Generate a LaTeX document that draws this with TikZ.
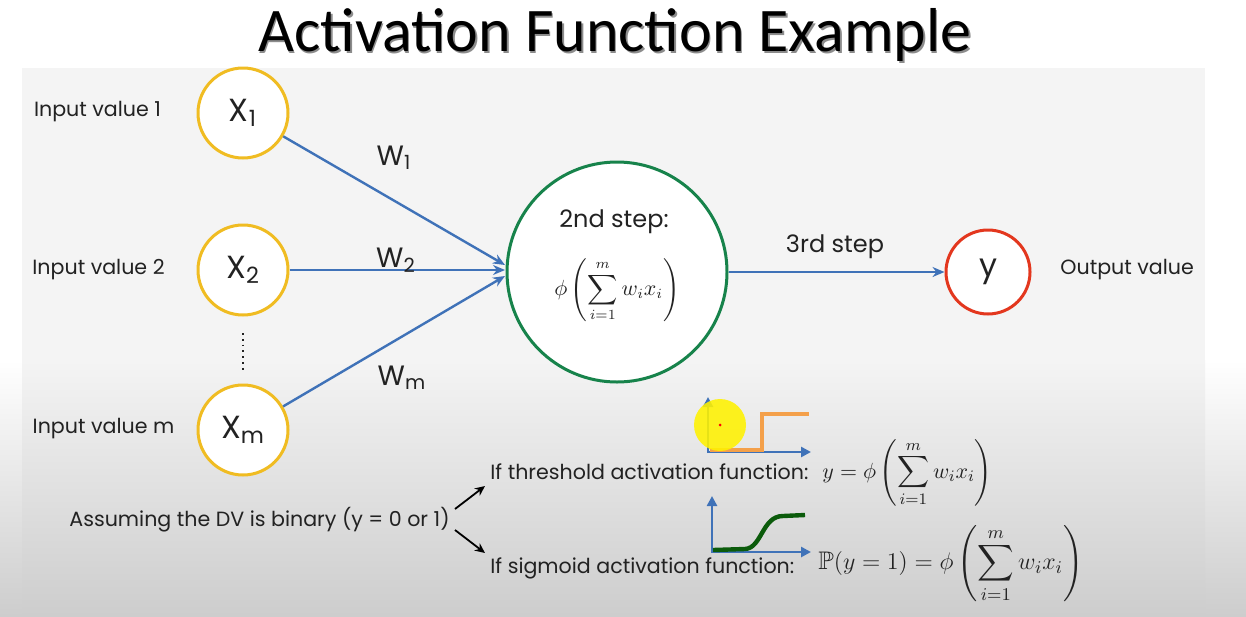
\documentclass[tikz,border=0pt]{standalone}
\usepackage{amssymb}
\usepackage{fontspec}
\setmainfont{Poppins}
\newfontfamily\titlefont{Carlito}
\usetikzlibrary{arrows.meta}
\definecolor{incol}{HTML}{F0BC22}
\definecolor{conncol}{HTML}{3F72B8}
\definecolor{midcol}{HTML}{17834B}
\definecolor{outcol}{HTML}{E3371E}
\definecolor{stepcol}{HTML}{F4A04A}
\definecolor{sigcol}{HTML}{0B5B0B}
\definecolor{txtcol}{HTML}{222222}
\definecolor{panel}{HTML}{F4F4F4}
\definecolor{panelbot}{HTML}{CDCDCD}
\tikzset{
  inp/.style={circle, draw=incol, line width=1.5pt, fill=white, minimum size=45pt, inner sep=0pt, text=txtcol, font=\fontsize{16}{16}\selectfont},
  midnode/.style={circle, draw=midcol, line width=1.5pt, fill=white, minimum size=110pt, inner sep=0pt},
  outnode/.style={circle, draw=outcol, line width=1.5pt, fill=white, minimum size=42pt, inner sep=0pt, text=txtcol, font=\fontsize{16}{16}\selectfont},
  conn/.style={draw=conncol, line width=1.2pt, -{Stealth[length=6pt,width=5pt]}},
  blk/.style={draw=black, line width=0.9pt, -{Stealth[length=5pt,width=4.5pt]}},
  lbl/.style={text=txtcol, font=\fontsize{10.3}{12}\selectfont, inner sep=0pt},
  steplbl/.style={text=txtcol, font=\fontsize{12}{14}\selectfont, inner sep=0pt},
  wlbl/.style={text=txtcol, font=\fontsize{14}{14}\selectfont, inner sep=0pt},
  axis/.style={draw=conncol, line width=1.3pt, -{Triangle[length=5pt,width=5pt]}},
}
\begin{document}
\begin{tikzpicture}[x=0.5pt,y=-0.5pt]
\useasboundingbox (0,0) rectangle (1246,616);
\fill[white] (0,0) rectangle (1246,616);
\fill[panel] (22,68) rectangle (1205,616);
\shade[top color=white, bottom color=panelbot] (0,360) rectangle (22,616);
\shade[top color=white, bottom color=panelbot] (1205,360) rectangle (1246,616);
\shade[top color=panel, bottom color=panelbot] (22,360) rectangle (1205,616);
% title
\node[inner sep=0pt, text=black!45, font=\titlefont\fontsize{31}{31}\selectfont] at (616.5,36.5) {Activation Function Example};
\node[inner sep=0pt, text=black, font=\titlefont\fontsize{31}{31}\selectfont] (title) at (615,35) {Activation Function Example};
% input labels
\node[lbl] (l1) at (97.5,112) {Input value 1};
\node[lbl] (l2) at (98.5,270) {Input value 2};
\node[lbl] (lm) at (103.5,429) {Input value m};
% input nodes
\node[inp] (x1) at (243,113) {X\textsubscript{1}};
\node[inp] (x2) at (243,270) {X\textsubscript{2}};
\node[inp] (xm) at (243,430) {X\textsubscript{m}};
\coordinate (d1) at (243,333);
\coordinate (d2) at (243,373);
\draw[txtcol, line width=0.9pt, dotted] (d1) -- (d2);
% middle node
\node[midnode] (mid) at (617,272) {};
\node[steplbl] (step2) at (614,222) {2nd step:};
\node[text=txtcol, inner sep=0pt, font=\fontsize{10.5}{12}\selectfont] (f1) at (617,290) {$\displaystyle\phi\left(\sum_{i=1}^{m} w_i x_i\right)$};
% connectors
\coordinate (in1) at (505,265);
\coordinate (in2) at (505,270);
\coordinate (inm) at (505,276);
\draw[conn] (x1) -- (in1);
\draw[conn] (x2) -- (in2);
\draw[conn] (xm) -- (inm);
\node[wlbl] (w1) at (394,158) {W\textsubscript{1}};
\node[wlbl] (w2) at (396,260) {W\textsubscript{2}};
\node[wlbl] (wm) at (402,378) {W\textsubscript{m}};
% output
\node[outnode] (out) at (988,272) {y};
\draw[conn] (mid) -- (out);
\node[steplbl] (step3) at (835,247) {3rd step};
\node[lbl, anchor=west] (outl) at (1060,270) {Output value};
% bottom
\node[lbl, anchor=west] (dv) at (69,520) {Assuming the DV is binary (y = 0 or 1)};
\coordinate (a1s) at (455,509);
\coordinate (a1e) at (485,486);
\coordinate (a2s) at (455,530);
\coordinate (a2e) at (485,553);
\draw[blk] (a1s) -- (a1e);
\draw[blk] (a2s) -- (a2e);
\node[lbl, anchor=west] (thr) at (490,472) {If threshold activation function:};
\node[lbl, anchor=west] (sig) at (490,568) {If sigmoid activation function:};
\node[text=txtcol, inner sep=0pt, anchor=west, font=\fontsize{11.1}{13}\selectfont] (f2) at (822,473) {$\displaystyle y=\phi\left(\sum_{i=1}^{m} w_i x_i\right)$};
\node[text=txtcol, inner sep=0pt, anchor=west, font=\fontsize{12.7}{15}\selectfont] (f3) at (818,564) {$\displaystyle \mathbb{P}(y=1)=\phi\left(\sum_{i=1}^{m} w_i x_i\right)$};
% threshold graph
\draw[axis] (708,453) -- (708,397);
\draw[axis] (708,452) -- (811,452);
\draw[stepcol, line width=2.2pt] (710,450) -- (762,450) -- (762,414) -- (809,414);
\fill[yellow, fill opacity=0.88] (720,425) circle (26);
\fill[red] (720,425) circle (1.5);
% sigmoid graph
\draw[axis] (712,553) -- (712,496);
\draw[axis] (712,552) -- (811,552);
\draw[sigcol, line width=2.2pt] (713,550) -- (745,549) .. controls (762,548) and (762,516) .. (783,516) -- (805,515);
\end{tikzpicture}
\end{document}
